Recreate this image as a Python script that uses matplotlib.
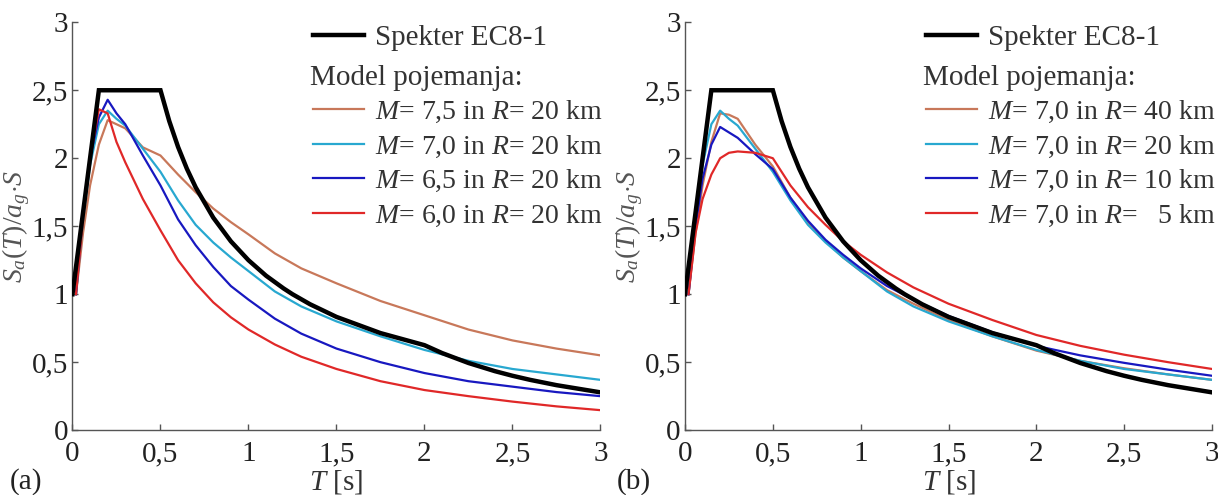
import numpy as np
from matplotlib import pyplot as plt
import matplotlib as mpl
from matplotlib.lines import Line2D

mpl.rcParams.update({
    'font.family': ['Liberation Serif', 'DejaVu Serif'],
    'mathtext.fontset': 'custom',
    'mathtext.rm': 'Liberation Serif',
    'mathtext.it': 'Liberation Serif:italic',
    'font.size': 21,
    'axes.linewidth': 1.0,
    'xtick.direction': 'in',
    'ytick.direction': 'in',
})

# EC8-1 elastic spectrum (normalised)
t_ec8 = [0.0, 0.15, 0.5, 0.55, 0.6, 0.65, 0.7, 0.8, 0.9, 1.0, 1.1, 1.2, 1.25,
         1.35, 1.5, 1.75, 2.0, 2.1, 2.25, 2.4, 2.5, 2.6, 2.75, 3.0]
sa_ec8 = [1.0, 2.5, 2.5, 2.273, 2.083, 1.923, 1.786, 1.563, 1.389, 1.25,
          1.136, 1.042, 1.0, 0.926, 0.833, 0.714, 0.625, 0.567, 0.494, 0.434,
          0.4, 0.370, 0.331, 0.278]

# period grid of the model curves
t_mod = [0.02, 0.06, 0.1, 0.15, 0.2, 0.25, 0.3, 0.4, 0.5, 0.6, 0.7, 0.8, 0.9,
         1.0, 1.15, 1.3, 1.5, 1.75, 2.0, 2.25, 2.5, 2.75, 3.0]

# M = 7.0, R = 20 km (shown in both panels)
m70_r20 = [1.0, 1.55, 1.95, 2.25, 2.35, 2.29, 2.24, 2.07, 1.90, 1.69, 1.51,
           1.38, 1.27, 1.17, 1.02, 0.91, 0.80, 0.69, 0.59, 0.51, 0.45, 0.41,
           0.37]

# panel (a): R = 20 km, varying M
a_m75 = [1.0, 1.45, 1.8, 2.1, 2.28, 2.25, 2.22, 2.08, 2.02, 1.88, 1.75, 1.63,
         1.53, 1.44, 1.30, 1.19, 1.08, 0.95, 0.845, 0.74, 0.66, 0.60, 0.55]
a_m65 = [1.0, 1.6, 2.0, 2.3, 2.43, 2.33, 2.25, 2.02, 1.80, 1.55, 1.36, 1.20,
         1.06, 0.96, 0.82, 0.71, 0.60, 0.50, 0.42, 0.36, 0.32, 0.28, 0.25]
a_m60 = [1.0, 1.55, 2.0, 2.36, 2.33, 2.12, 1.97, 1.70, 1.47, 1.25, 1.08, 0.94,
         0.83, 0.74, 0.63, 0.54, 0.45, 0.36, 0.295, 0.25, 0.21, 0.175, 0.147]

# panel (b): M = 7.0, varying R
b_r40 = [1.0, 1.45, 1.8, 2.12, 2.33, 2.32, 2.29, 2.1, 1.94, 1.71, 1.53, 1.39,
         1.27, 1.17, 1.03, 0.93, 0.81, 0.69, 0.585, 0.51, 0.455, 0.41, 0.37]
b_r10 = [1.0, 1.5, 1.85, 2.1, 2.23, 2.19, 2.15, 2.03, 1.92, 1.71, 1.54, 1.40,
         1.29, 1.19, 1.06, 0.96, 0.84, 0.72, 0.62, 0.55, 0.495, 0.445, 0.40]
b_r05 = [1.0, 1.45, 1.7, 1.88, 2.0, 2.04, 2.05, 2.04, 2.0, 1.80, 1.64, 1.51,
         1.39, 1.29, 1.16, 1.05, 0.93, 0.81, 0.70, 0.62, 0.555, 0.50, 0.45]

colors = ['#c8785a', '#28a8d0', '#1818c0', '#e02828']
labels_a = ['$M$= 7,5 in $R$= 20 km', '$M$= 7,0 in $R$= 20 km',
            '$M$= 6,5 in $R$= 20 km', '$M$= 6,0 in $R$= 20 km']
labels_b = ['$M$= 7,0 in $R$= 40 km', '$M$= 7,0 in $R$= 20 km',
            '$M$= 7,0 in $R$= 10 km', '$M$= 7,0 in $R$=   5 km']
ticks = [0, 0.5, 1, 1.5, 2, 2.5, 3]
ticklabels = ['0', '0,5', '1', '1,5', '2', '2,5', '3']

fig = plt.figure(figsize=(12.18, 4.95), dpi=100)
ax_a = fig.add_axes([0.0595, 0.131, 0.4335, 0.824])
ax_b = fig.add_axes([0.5624, 0.131, 0.4327, 0.824])


def draw_panel(ax, series, labels, tag, tag_x, leg_x):
    for idx, ys in enumerate(series):
        ax.plot(t_mod, ys, color=colors[idx], lw=1.6, zorder=3)
    ax.plot(t_ec8, sa_ec8, color='black', lw=3.2, zorder=4,
            solid_joinstyle='miter')
    ax.set_xlim(0, 3)
    ax.set_ylim(0, 3)
    ax.set_xticks(ticks)
    ax.set_xticklabels(ticklabels)
    ax.set_yticks(ticks)
    ax.set_yticklabels(ticklabels)
    for s in ['top', 'right']:
        ax.spines[s].set_visible(False)
    for s in ['left', 'bottom']:
        ax.spines[s].set_color('#555555')
    ax.tick_params(length=4, width=1.0, color='#555555', labelsize=21,
                   labelcolor='#222222')
    ax.tick_params(axis='x', pad=8)
    ax.tick_params(axis='y', pad=3)
    ax.set_xlabel('$T$ [s]', fontsize=21, color='#333333')
    ax.set_ylabel(r'$S_a(T)/a_g{\cdot}S$', fontsize=20, color='#555555')
    ax.xaxis.set_label_coords(0.5, -0.092)
    ax.yaxis.set_label_coords(-0.076, 0.5)

    h1 = [Line2D([], [], color='black', lw=3.2)]
    leg1 = ax.legend(h1, ['Spekter EC8-1'], loc='upper left',
                     bbox_to_anchor=(leg_x, 0.995), frameon=False,
                     handlelength=1.75, handletextpad=0.38, fontsize=21,
                     borderpad=0, borderaxespad=0, labelcolor='#333333')
    ax.add_artist(leg1)
    ax.text(leg_x - 0.005, 0.863, 'Model pojemanja:', transform=ax.transAxes,
            fontsize=21, color='#333333', va='center', ha='left')
    h2 = [Line2D([], [], color=c, lw=1.6) for c in colors]
    ax.legend(h2, labels, loc='upper left', bbox_to_anchor=(leg_x, 0.812),
              frameon=False, handlelength=1.84, handletextpad=0.4,
              fontsize=20, labelspacing=0.3, borderpad=0, borderaxespad=0,
              labelcolor='#333333')
    fig.text(tag_x, 0.012, tag, fontsize=21, color='#222222')


draw_panel(ax_a, [a_m75, m70_r20, a_m65, a_m60], labels_a, '(a)', 0.008,
           0.455)
draw_panel(ax_b, [b_r40, m70_r20, b_r10, b_r05], labels_b, '(b)', 0.506,
           0.457)

fig.savefig('out.png', dpi=100)
